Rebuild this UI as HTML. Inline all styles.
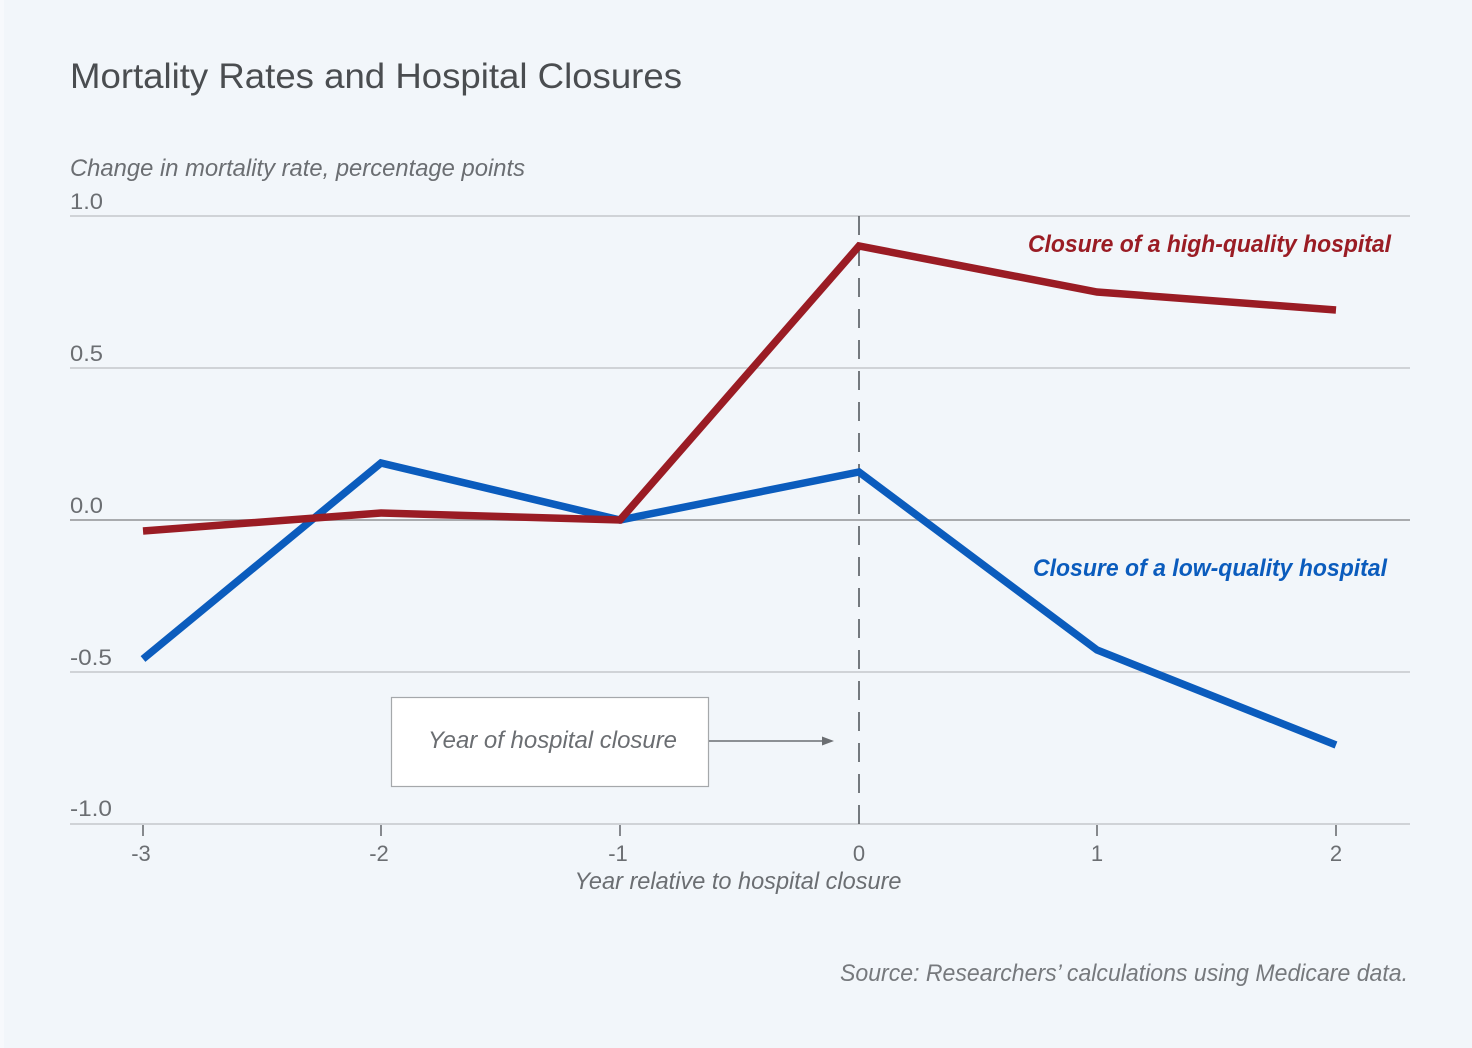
<!DOCTYPE html>
<html>
<head>
<meta charset="utf-8">
<style>
  html,body{margin:0;padding:0;background:#f2f6fa;}
  body{width:1472px;height:1048px;overflow:hidden;}
  svg{display:block;}
  text{font-family:"Liberation Sans",sans-serif;}
</style>
</head>
<body>
<svg width="1472" height="1048" viewBox="0 0 1472 1048" xmlns="http://www.w3.org/2000/svg">
  <rect x="0" y="0" width="1472" height="1048" fill="#f2f6fa"/>
  <rect x="0" y="0" width="4" height="1048" fill="#f7f9fc"/>

  <!-- Title -->
  <text x="70" y="88" font-size="35" fill="#4a4d50" textLength="612" lengthAdjust="spacingAndGlyphs">Mortality Rates and Hospital Closures</text>

  <!-- Y axis title -->
  <text x="70" y="176" font-size="24" font-style="italic" fill="#6b6e72" textLength="455" lengthAdjust="spacingAndGlyphs">Change in mortality rate, percentage points</text>

  <!-- Gridlines -->
  <g stroke="#c4c7cb" stroke-width="1.6">
    <line x1="70" y1="216" x2="1410" y2="216"/>
    <line x1="70" y1="368" x2="1410" y2="368"/>
    <line x1="70" y1="672" x2="1410" y2="672"/>
    <line x1="70" y1="824" x2="1410" y2="824"/>
  </g>
  <line x1="70" y1="520" x2="1410" y2="520" stroke="#a9abae" stroke-width="2"/>

  <!-- Y tick labels -->
  <g font-size="22" fill="#6b6e72">
    <text x="70" y="209" textLength="33" lengthAdjust="spacingAndGlyphs">1.0</text>
    <text x="70" y="361" textLength="33" lengthAdjust="spacingAndGlyphs">0.5</text>
    <text x="70" y="513" textLength="33" lengthAdjust="spacingAndGlyphs">0.0</text>
    <text x="70" y="665" textLength="42" lengthAdjust="spacingAndGlyphs">-0.5</text>
    <text x="70" y="816" textLength="42" lengthAdjust="spacingAndGlyphs">-1.0</text>
  </g>

  <!-- X ticks -->
  <g stroke="#6b6e72" stroke-width="1.6">
    <line x1="143" y1="825" x2="143" y2="836"/>
    <line x1="381" y1="825" x2="381" y2="836"/>
    <line x1="620" y1="825" x2="620" y2="836"/>
    <line x1="1097" y1="825" x2="1097" y2="836"/>
    <line x1="1336" y1="825" x2="1336" y2="836"/>
  </g>
  <g font-size="22" fill="#6b6e72" text-anchor="middle">
    <text x="141" y="861">-3</text>
    <text x="379" y="861">-2</text>
    <text x="618" y="861">-1</text>
    <text x="859" y="861">0</text>
    <text x="1097" y="861">1</text>
    <text x="1336" y="861">2</text>
  </g>
  <text x="738" y="889" font-size="24" font-style="italic" fill="#6b6e72" text-anchor="middle" textLength="327" lengthAdjust="spacingAndGlyphs">Year relative to hospital closure</text>

  <!-- Dashed vertical line at year 0 -->
  <line x1="859" y1="216" x2="859" y2="836" stroke="#555a5f" stroke-width="1.6" stroke-dasharray="19,12"/>

  <!-- Annotation box -->
  <rect x="391.5" y="697.5" width="317" height="89" fill="#ffffff" stroke="#a5a8ab" stroke-width="1.2"/>
  <text x="428" y="748" font-size="24" font-style="italic" fill="#6b6e72" textLength="249" lengthAdjust="spacingAndGlyphs">Year of hospital closure</text>
  <line x1="709" y1="741" x2="825" y2="741" stroke="#6b6e72" stroke-width="1.6"/>
  <polygon points="834,741 822,736.5 822,745.5" fill="#6b6e72"/>

  <!-- Blue series -->
  <polyline fill="none" stroke="#0b5cbd" stroke-width="7.5" stroke-linejoin="miter" stroke-linecap="butt"
    points="143,659 381,463 620,520 859,472 1097,650 1336,745"/>
  <!-- Red series -->
  <polyline fill="none" stroke="#9a1c24" stroke-width="7.5" stroke-linejoin="miter" stroke-linecap="butt"
    points="143,531 381,513 620,520 859,246 1097,292 1336,310"/>

  <!-- Series labels -->
  <text x="1028" y="252" font-size="24" font-style="italic" font-weight="bold" fill="#9a1c24" textLength="363" lengthAdjust="spacingAndGlyphs">Closure of a high-quality hospital</text>
  <text x="1033" y="576" font-size="24" font-style="italic" font-weight="bold" fill="#0b5cbd" textLength="354" lengthAdjust="spacingAndGlyphs">Closure of a low-quality hospital</text>

  <!-- Source -->
  <text x="840" y="981" font-size="24" font-style="italic" fill="#76797d" textLength="568" lengthAdjust="spacingAndGlyphs">Source: Researchers’ calculations using Medicare data.</text>
</svg>
</body>
</html>
